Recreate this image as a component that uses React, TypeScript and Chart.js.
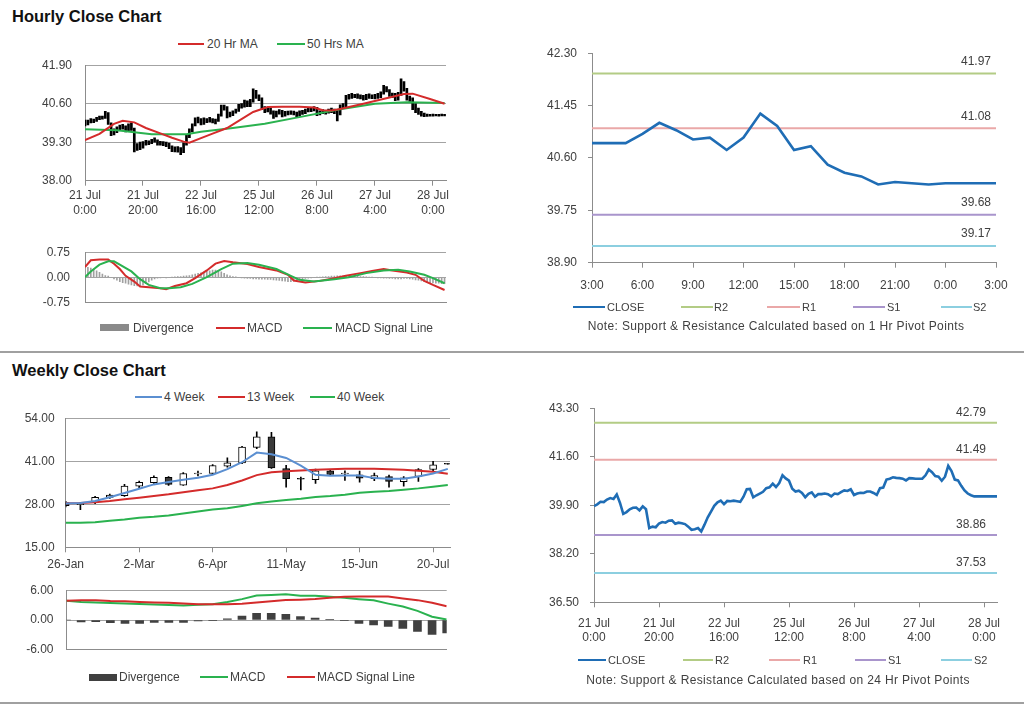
import React, { useEffect, useRef } from "react";
import { Chart, registerables } from "chart.js";

Chart.register(...registerables);

const FONT = "'Liberation Sans', Arial, Helvetica, sans-serif";
Chart.defaults.font.family = FONT;
Chart.defaults.font.size = 12;
Chart.defaults.color = "#404040";

// ---------------- data ----------------
// hourly bars (index 0 = 21 Jul 0:00, one per trading hour)
const hourlyTickIndex = [0, 20, 40, 60, 80, 100, 120];
const hourlyTickLabels = [
  ["21 Jul", "0:00"],
  ["21 Jul", "20:00"],
  ["22 Jul", "16:00"],
  ["25 Jul", "12:00"],
  ["26 Jul", "8:00"],
  ["27 Jul", "4:00"],
  ["28 Jul", "0:00"],
];
const hourlyClose = [
  39.87, 39.93, 40.02, 40.01, 40.1, 40.15, 40.12, 40.28, 39.98, 39.6,
  39.66, 39.76, 39.81, 39.82, 39.72, 39.86, 39.76, 39.1, 39.15, 39.13,
  39.26, 39.31, 39.29, 39.36, 39.37, 39.25, 39.29, 39.27, 39.24, 39.15,
  39.04, 39.06, 39.1, 38.98, 39.22, 39.48, 39.68, 39.88, 40.0, 40.06,
  39.94, 40.05, 40.04, 40.06, 40.04, 40.02, 40.2, 40.46, 40.47, 40.18,
  40.25, 40.31, 40.37, 40.5, 40.53, 40.66, 40.54, 40.68, 40.95, 40.84,
  40.76, 40.48, 40.38, 40.41, 40.33, 40.18, 40.3, 40.35, 40.2, 40.29,
  40.29, 40.31, 40.29, 40.21, 40.31, 40.29, 40.36, 40.42, 40.4, 40.46,
  40.26, 40.31, 40.34, 40.33, 40.38, 40.38, 40.33, 40.26, 40.5, 40.52,
  40.8, 40.83, 40.88, 40.86, 40.85, 40.83, 40.77, 40.85, 40.84, 40.83,
  40.83, 40.83, 40.95, 41.15, 41.06, 40.92, 40.9, 40.76, 40.9, 41.28,
  41.1, 40.8, 40.77, 40.58, 40.42, 40.31, 40.25, 40.21, 40.21, 40.21,
  40.21, 40.21, 40.21, 40.21, 40.21,
];
const hourlyHigh = [
  40.05, 40.05, 40.1, 40.08, 40.14, 40.18, 40.18, 40.34, 40.3, 39.95,
  39.75, 39.82, 39.88, 39.9, 39.85, 39.92, 39.95, 39.78, 39.25, 39.3,
  39.32, 39.36, 39.35, 39.4, 39.45, 39.38, 39.33, 39.32, 39.3, 39.27,
  39.18, 39.14, 39.15, 39.12, 39.28, 39.55, 39.75, 39.92, 40.12, 40.15,
  40.1, 40.12, 40.1, 40.14, 40.1, 40.08, 40.25, 40.55, 40.55, 40.5,
  40.32, 40.36, 40.42, 40.58, 40.6, 40.72, 40.7, 40.75, 41.1, 41.05,
  40.9, 40.8, 40.5, 40.48, 40.45, 40.36, 40.35, 40.4, 40.38, 40.34,
  40.35, 40.36, 40.35, 40.32, 40.36, 40.38, 40.42, 40.47, 40.46, 40.5,
  40.48, 40.36, 40.4, 40.38, 40.42, 40.45, 40.42, 40.38, 40.56, 40.6,
  40.88, 40.92, 40.95, 40.92, 40.93, 40.9, 40.88, 40.92, 40.93, 40.9,
  40.92, 40.95, 41.0, 41.22, 41.18, 41.08, 40.96, 40.95, 40.98, 41.44,
  41.35, 41.12, 40.86, 40.8, 40.6, 40.45, 40.34, 40.28, 40.25, 40.24,
  40.25, 40.24, 40.24, 40.25, 40.24,
];
const hourlyLow = [
  39.85, 39.88, 39.95, 39.96, 40.0, 40.06, 40.08, 40.1, 39.9, 39.52,
  39.55, 39.62, 39.7, 39.74, 39.65, 39.68, 39.7, 38.97, 39.02, 39.05,
  39.1, 39.2, 39.22, 39.25, 39.3, 39.2, 39.2, 39.18, 39.15, 39.08,
  38.98, 38.97, 38.96, 38.88, 38.95, 39.2, 39.45, 39.65, 39.85, 39.95,
  39.88, 39.9, 39.96, 39.98, 39.95, 39.92, 40.0, 40.18, 40.38, 40.12,
  40.15, 40.2, 40.28, 40.34, 40.45, 40.48, 40.5, 40.5, 40.65, 40.78,
  40.7, 40.4, 40.3, 40.32, 40.25, 40.1, 40.15, 40.25, 40.15, 40.18,
  40.22, 40.24, 40.22, 40.15, 40.18, 40.24, 40.26, 40.32, 40.33, 40.36,
  40.2, 40.22, 40.26, 40.25, 40.28, 40.3, 40.26, 40.02, 40.22, 40.44,
  40.5, 40.75, 40.78, 40.8, 40.78, 40.76, 40.72, 40.74, 40.78, 40.77,
  40.76, 40.78, 40.8, 40.92, 41.0, 40.85, 40.8, 40.7, 40.72, 40.88,
  41.02, 40.72, 40.68, 40.4, 40.3, 40.24, 40.18, 40.16, 40.17, 40.18,
  40.18, 40.19, 40.18, 40.19, 40.19,
];
// [hour index, value]
const ma20Hr: [number, number][] = [
  [0, 39.37], [5, 39.58], [10, 39.92], [13, 40.02], [17, 39.97], [21, 39.78],
  [26, 39.6], [30, 39.45], [34, 39.32], [36, 39.28], [40, 39.44], [44, 39.59],
  [49, 39.78], [53, 40.02], [58, 40.32], [63, 40.49], [68, 40.5], [74, 40.5],
  [79, 40.47], [82, 40.38], [85, 40.37], [88, 40.42], [96, 40.6], [105, 40.81],
  [110, 40.93], [113, 40.94], [119, 40.76], [124, 40.6],
];
const ma50Hr: [number, number][] = [
  [0, 39.74], [11, 39.7], [23, 39.57], [35, 39.57], [40, 39.65], [51, 39.78],
  [62, 39.92], [73, 40.13], [88, 40.41], [100, 40.6], [111, 40.65], [124, 40.62],
];
const hourlyMacd: [number, number][] = [
  [0, 0.31], [2, 0.51], [5, 0.53], [8, 0.53], [10, 0.41], [12, 0.25], [14, 0.05],
  [17, -0.12], [19, -0.27], [22, -0.29], [26, -0.32], [28, -0.35], [31, -0.25],
  [35, -0.17], [38, -0.02], [42, 0.21], [45, 0.41], [48, 0.49], [51, 0.45],
  [56, 0.4], [60, 0.31], [66, 0.21], [70, 0.08], [72, -0.09], [76, -0.15],
  [81, -0.1], [86, -0.02], [90, 0.05], [95, 0.13], [99, 0.19], [103, 0.25],
  [106, 0.21], [111, 0.15], [114, 0.08], [117, -0.1], [120, -0.22], [124, -0.37],
];
const hourlySignal: [number, number][] = [
  [0, 0.01], [2, 0.18], [5, 0.38], [8, 0.48], [10, 0.48], [12, 0.38], [16, 0.18],
  [19, -0.05], [22, -0.22], [26, -0.32], [29, -0.32], [33, -0.29], [37, -0.19],
  [42, 0.01], [47, 0.25], [51, 0.41], [56, 0.43], [60, 0.38], [66, 0.25],
  [71, 0.05], [74, -0.07], [79, -0.12], [86, -0.05], [91, 0.01], [97, 0.13],
  [103, 0.21], [108, 0.23], [112, 0.18], [117, 0.08], [120, -0.02], [124, -0.17],
];
const hourlyDivergence = [
  0.3, 0.3, 0.28, 0.25, 0.2, 0.15, 0.1, 0.06, 0.04, 0.0,
  -0.04, -0.08, -0.12, -0.15, -0.17, -0.2, -0.22, -0.24, -0.25, -0.24,
  -0.22, -0.18, -0.13, -0.08, -0.04, -0.02, -0.01, 0.0, -0.01, 0.0,
  0.01, 0.02, 0.03, 0.03, 0.04, 0.05, 0.06, 0.08, 0.1, 0.12,
  0.14, 0.16, 0.18, 0.2, 0.22, 0.22, 0.2, 0.17, 0.12, 0.08,
  0.05, 0.03, 0.02, 0.0, -0.01, -0.02, -0.03, -0.03, -0.04, -0.04,
  -0.05, -0.05, -0.05, -0.06, -0.06, -0.07, -0.08, -0.09, -0.1, -0.11,
  -0.12, -0.12, -0.11, -0.09, -0.07, -0.05, -0.03, -0.02, -0.01, 0.0,
  0.01, 0.01, 0.02, 0.03, 0.03, 0.04, 0.04, 0.05, 0.05, 0.05,
  0.06, 0.05, 0.05, 0.04, 0.04, 0.03, 0.03, 0.02, 0.01, 0.01,
  0.0, -0.01, -0.01, -0.02, -0.02, -0.03, -0.03, -0.04, -0.04, -0.04,
  -0.03, -0.03, -0.04, -0.05, -0.07, -0.08, -0.1, -0.12, -0.14, -0.15,
  -0.16, -0.17, -0.17, -0.18, -0.18,
];
const hourlyPriceTicks = [38.0, 39.3, 40.6, 41.9];
const hourlyMacdTicks = [-0.75, 0, 0.75];

// 1 Hr pivot panel (hour 0 = 3:00)
const pivot1hTickIndex = [0, 3, 6, 9, 12, 15, 18, 21, 24];
const pivot1hTickLabels = ["3:00", "6:00", "9:00", "12:00", "15:00", "18:00", "21:00", "0:00", "3:00"];
const pivot1hClose = [
  40.84, 40.84, 40.84, 40.99, 41.17, 41.05, 40.9, 40.93, 40.73, 40.93, 41.32, 41.12, 40.73,
  40.79, 40.49, 40.36, 40.3, 40.17, 40.21, 40.19, 40.17, 40.19, 40.19, 40.19, 40.19,
];
const pivot1hLevels = [41.97, 41.08, 39.68, 39.17]; // R2, R1, S1, S2
const pivot1hTicks = [38.9, 39.75, 40.6, 41.45, 42.3];

// 24 Hr pivot panel
const pivot24hLevels = [42.79, 41.49, 38.86, 37.53]; // R2, R1, S1, S2
const pivot24hTicks = [36.5, 38.2, 39.9, 41.6, 43.3];

const pivotNames = ["R2", "R1", "S1", "S2"];

// weekly (week 0 = 26-Jan)
const weeklyTickIndex = [0, 5, 10, 15, 20, 25];
const weeklyTickLabels = ["26-Jan", "2-Mar", "6-Apr", "11-May", "15-Jun", "20-Jul"];
const weeklyOpen = [28.5, 27.9, 28.5, 30.1, 30.6, 33.5, 34.5, 36.1, 33.8, 37.2, 37.3, 39.5, 40.5, 45.2, 48.4, 38.8, 35.8, 35.4, 38.1, 37.2, 36.9, 35.7, 36.4, 34.8, 36.4, 38.5, 40.35];
const weeklyClose = [27.6, 28.3, 30.1, 30.8, 33.5, 34.6, 36.1, 34.0, 37.3, 37.4, 39.7, 40.5, 45.3, 48.4, 39.0, 35.7, 35.6, 38.1, 37.0, 37.4, 35.9, 36.7, 34.9, 36.0, 38.5, 39.9, 40.15];
const weeklyHigh = [28.9, 28.6, 30.4, 31.1, 34.0, 35.0, 36.6, 36.4, 37.6, 38.0, 40.0, 42.0, 45.5, 49.9, 49.7, 39.8, 36.2, 38.6, 38.5, 38.1, 38.0, 37.4, 36.8, 36.4, 38.8, 41.0, 40.4];
const weeklyLow = [27.2, 26.4, 28.2, 29.8, 30.4, 32.9, 34.3, 33.7, 33.7, 36.6, 37.1, 39.2, 40.3, 44.8, 38.8, 33.2, 32.3, 34.3, 36.7, 35.2, 34.7, 35.1, 33.2, 33.5, 34.9, 38.1, 40.1];
const ma4Week = [28.2, 28.4, 29.0, 30.1, 31.4, 32.7, 34.0, 34.7, 35.4, 36.0, 36.9, 38.6, 40.7, 43.6, 43.1, 42.0, 39.7, 36.9, 36.6, 36.7, 36.7, 35.9, 35.7, 35.7, 36.4, 37.3, 38.7];
const ma13Week = [28.3, 28.4, 28.6, 29.0, 29.5, 30.0, 30.5, 31.0, 31.6, 32.2, 32.8, 33.8, 35.2, 36.8, 37.7, 38.0, 38.2, 38.4, 38.6, 38.7, 38.7, 38.7, 38.6, 38.4, 38.1, 37.8, 37.2];
const ma40Week = [22.4, 22.4, 22.6, 23.0, 23.4, 23.9, 24.2, 24.6, 25.2, 25.8, 26.4, 26.8, 27.5, 28.3, 28.8, 29.3, 29.7, 30.2, 30.5, 30.9, 31.5, 31.8, 32.0, 32.4, 32.8, 33.3, 33.8];
const weeklyMacd = [3.87, 3.6, 3.5, 3.4, 3.3, 3.2, 3.1, 3.0, 2.93, 3.05, 3.16, 3.63, 4.2, 4.95, 5.05, 5.2, 4.9, 4.9, 4.67, 4.48, 4.2, 3.96, 3.3, 2.7, 1.84, 0.66, 0.1];
const weeklySignal = [3.87, 3.96, 3.96, 3.82, 3.78, 3.63, 3.54, 3.49, 3.3, 3.16, 3.16, 3.16, 3.26, 3.54, 3.78, 4.01, 4.1, 4.25, 4.48, 4.67, 4.72, 4.72, 4.72, 4.34, 4.0, 3.49, 2.78];
const weeklyDivergence = [0, -0.38, -0.35, -0.55, -0.7, -0.7, -0.5, -0.5, -0.5, -0.2, -0.15, 0.25, 0.8, 1.35, 1.35, 1.15, 0.7, 0.4, 0.05, -0.15, -0.7, -1.0, -1.3, -1.7, -2.3, -2.9, -2.6];
const weeklyPriceTicks = [15, 28, 41, 54];
const weeklyMacdTicks = [-6, 0, 6];

// ---------------- styles ----------------
const AXIS_GRAY = "#8c8c8c";
const GRID_GRAY = "#a3a3a3";
const TEXT = "#404040";
const RED = "#d42b2b";
const GREEN = "#2ab24f";
const CLOSE_BLUE = "#1f6db5";
const WEEK4_BLUE = "#5b8fd1";
const PIVOT_COLORS = ["#b3cc85", "#eaa8a8", "#a995cc", "#8ccfe0"];

function yScale(ticks: number[], width: number, grid: boolean, tickLen: number, pad: number) {
  return {
    type: "linear" as const,
    min: ticks[0],
    max: ticks[ticks.length - 1],
    beginAtZero: false,
    afterBuildTicks: (s: any) => {
      s.ticks = ticks.map((v) => ({ value: v }));
    },
    afterFit: (s: any) => {
      s.width = width;
    },
    ticks: {
      padding: pad,
      color: TEXT,
      font: { size: 12 },
      callback: (v: any) => Number(v).toFixed(2),
    },
    grid: {
      drawOnChartArea: grid,
      drawTicks: tickLen > 0,
      tickLength: tickLen,
      color: GRID_GRAY,
      tickColor: AXIS_GRAY,
      lineWidth: 1,
    },
    border: { display: true, color: AXIS_GRAY, width: 1 },
  };
}

function xScale(min: number, max: number, tickVals: number[], labels: any[] | null, height: number, pad: number) {
  return {
    type: "linear" as const,
    min,
    max,
    offset: false,
    afterBuildTicks: (s: any) => {
      s.ticks = tickVals.map((v) => ({ value: v }));
    },
    afterFit: (s: any) => {
      s.height = height;
    },
    ticks: {
      display: !!labels,
      padding: pad,
      autoSkip: false,
      maxRotation: 0,
      minRotation: 0,
      color: TEXT,
      font: { size: 12 },
      callback: (_v: any, i: number) => (labels ? labels[i] : ""),
    },
    grid: {
      display: true,
      drawOnChartArea: false,
      drawTicks: !!labels,
      tickLength: 5,
      color: AXIS_GRAY,
      tickColor: AXIS_GRAY,
      offset: false,
    },
    border: { display: true, color: AXIS_GRAY, width: 1 },
  };
}

function baseOptions(padTop: number, padRight: number, x: any, y: any) {
  return {
    responsive: false,
    animation: false as const,
    devicePixelRatio: 1,
    events: [] as any[],
    layout: { padding: { left: 0, right: padRight, top: padTop, bottom: 0 } },
    plugins: { legend: { display: false }, tooltip: { enabled: false } },
    scales: { x, y },
  };
}

const lineDs = (data: any[], color: string, width: number, order: number) => ({
  type: "line" as const,
  data,
  borderColor: color,
  backgroundColor: color,
  borderWidth: width,
  pointRadius: 0,
  tension: 0,
  fill: false,
  order,
});

function pivotLabelPlugin(levels: number[], inset: number, lift: number) {
  return {
    id: "pivotLabels",
    afterDatasetsDraw(chart: any) {
      const { ctx, chartArea, scales } = chart;
      ctx.save();
      ctx.font = `12px ${FONT}`;
      ctx.fillStyle = TEXT;
      ctx.textAlign = "right";
      ctx.textBaseline = "middle";
      levels.forEach((v) => {
        ctx.fillText(v.toFixed(2), chartArea.right - inset, scales.y.getPixelForValue(v) - lift);
      });
      ctx.restore();
    },
  };
}

// ---------------- chart configs ----------------
function hourlyPriceConfig() {
  return {
    type: "bar" as const,
    data: {
      datasets: [
        lineDs(ma20Hr.map(([x, y]) => ({ x, y })), RED, 2, 0),
        lineDs(ma50Hr.map(([x, y]) => ({ x, y })), GREEN, 2, 1),
        {
          type: "bar" as const,
          data: hourlyLow.map((l, i) => ({ x: i, y: [l, hourlyHigh[i]] })),
          backgroundColor: "#000",
          barThickness: 2,
          grouped: false,
          order: 2,
        },
      ],
    },
    options: baseOptions(
      12.3,
      24,
      xScale(0, 124.5, hourlyTickIndex, hourlyTickLabels, 44.3, 3),
      yScale(hourlyPriceTicks, 85, true, 0, 13)
    ),
  };
}

function hourlyMacdConfig() {
  return {
    type: "bar" as const,
    data: {
      datasets: [
        lineDs(hourlyMacd.map(([x, y]) => ({ x, y })), RED, 2, 1),
        lineDs(hourlySignal.map(([x, y]) => ({ x, y })), GREEN, 2, 0),
        {
          type: "bar" as const,
          data: hourlyDivergence.map((v, i) => ({ x: i, y: v })),
          backgroundColor: "#a0a0a0",
          barThickness: 1,
          grouped: false,
          order: 2,
        },
      ],
    },
    options: baseOptions(
      10.7,
      24,
      xScale(0, 124.5, hourlyTickIndex, null, 9.3, 0),
      yScale(hourlyMacdTicks, 85, true, 0, 15)
    ),
  };
}

function pivot1hConfig() {
  const maxX = pivot1hClose.length - 1;
  return {
    type: "line" as const,
    data: {
      datasets: [
        lineDs(pivot1hClose.map((v, i) => ({ x: i, y: v })), CLOSE_BLUE, 2.6, 0),
        ...pivot1hLevels.map((v, k) =>
          lineDs([{ x: 0, y: v }, { x: maxX, y: v }], PIVOT_COLORS[k], 2, 1 + k)
        ),
      ],
    },
    options: baseOptions(
      12.3,
      24,
      xScale(0, maxX, pivot1hTickIndex, pivot1hTickLabels, 37.3, 11),
      yScale(pivot1hTicks, 92, false, 4, 11)
    ),
    plugins: [pivotLabelPlugin(pivot1hLevels, 5, 12)],
  };
}

function pivot24hConfig() {
  const maxX = hourlyClose.length - 1;
  return {
    type: "line" as const,
    data: {
      datasets: [
        lineDs(hourlyClose.map((v, i) => ({ x: i, y: v })), CLOSE_BLUE, 2.6, 0),
        ...pivot24hLevels.map((v, k) =>
          lineDs([{ x: 0, y: v }, { x: maxX, y: v }], PIVOT_COLORS[k], 2, 1 + k)
        ),
      ],
    },
    options: baseOptions(
      11.7,
      23,
      xScale(0, maxX, hourlyTickIndex, hourlyTickLabels, 47.7, 9),
      yScale(pivot24hTicks, 94, false, 4, 11)
    ),
    plugins: [pivotLabelPlugin(pivot24hLevels, 11, 10)],
  };
}

function weeklyPriceConfig() {
  return {
    type: "bar" as const,
    data: {
      datasets: [
        lineDs(ma4Week.map((v, i) => ({ x: i, y: v })), WEEK4_BLUE, 2, 0),
        lineDs(ma13Week.map((v, i) => ({ x: i, y: v })), RED, 2, 1),
        lineDs(ma40Week.map((v, i) => ({ x: i, y: v })), GREEN, 2, 2),
        {
          type: "bar" as const,
          data: weeklyOpen.map((o, i) => ({ x: i, y: [o, weeklyClose[i]] })),
          backgroundColor: weeklyOpen.map((o, i) => (weeklyClose[i] >= o ? "#ffffff" : "#3a3a3a")),
          borderColor: "#000",
          borderWidth: 1,
          borderSkipped: false,
          barThickness: 7,
          grouped: false,
          order: 3,
        },
        {
          type: "bar" as const,
          data: weeklyLow.map((l, i) => ({ x: i, y: [l, weeklyHigh[i]] })),
          backgroundColor: "#000",
          barThickness: 1,
          grouped: false,
          order: 4,
        },
      ],
    },
    options: baseOptions(
      12.3,
      20,
      xScale(0, 26.15, weeklyTickIndex, weeklyTickLabels, 32.7, 5.5),
      yScale(weeklyPriceTicks, 65.7, true, 0, 11)
    ),
  };
}

function weeklyMacdConfig() {
  return {
    type: "bar" as const,
    data: {
      datasets: [
        lineDs(weeklyMacd.map((v, i) => ({ x: i, y: v })), GREEN, 2, 1),
        lineDs(weeklySignal.map((v, i) => ({ x: i, y: v })), RED, 2, 0),
        {
          type: "bar" as const,
          data: weeklyDivergence.map((v, i) => ({ x: i, y: v })),
          backgroundColor: "#404040",
          barThickness: 8,
          grouped: false,
          order: 2,
        },
      ],
    },
    options: baseOptions(
      10,
      23.3,
      xScale(0, 26, weeklyTickIndex, null, 4.3, 0),
      yScale(weeklyMacdTicks, 66.5, true, 0, 13)
    ),
  };
}

// ---------------- components ----------------
function ChartBox(props: { left: number; top: number; width: number; height: number; build: () => any }) {
  const ref = useRef<HTMLCanvasElement | null>(null);
  useEffect(() => {
    if (!ref.current) return;
    const chart = new Chart(ref.current, props.build());
    return () => chart.destroy();
  }, []);
  return (
    <canvas
      ref={ref}
      width={props.width}
      height={props.height}
      style={{ position: "absolute", left: props.left, top: props.top, width: props.width, height: props.height }}
    />
  );
}

type LegendItem = {
  kind: "line" | "box";
  x1: number;
  x2: number;
  tx: number;
  color: string;
  text: string;
  thick?: number;
};

function Legend(props: { y: number; size: number; items: LegendItem[] }) {
  const { y, size, items } = props;
  return (
    <>
      {items.map((it, i) => {
        const h = it.kind === "box" ? 7 : it.thick ?? 2;
        return (
          <React.Fragment key={i}>
            <div
              style={{
                position: "absolute",
                left: it.x1,
                top: Math.round(y - h / 2),
                width: it.x2 - it.x1,
                height: h,
                background: it.color,
              }}
            />
            <div
              style={{
                position: "absolute",
                left: it.tx,
                top: Math.round(y - 8),
                height: 16,
                lineHeight: "16px",
                fontSize: size,
                color: TEXT,
                whiteSpace: "nowrap",
              }}
            >
              {it.text}
            </div>
          </React.Fragment>
        );
      })}
    </>
  );
}

const pivotLegend = (xs: number[][]): LegendItem[] =>
  ["CLOSE", ...pivotNames].map((t, k) => ({
    kind: "line",
    x1: xs[k][0],
    x2: xs[k][1],
    tx: xs[k][2],
    color: k === 0 ? CLOSE_BLUE : PIVOT_COLORS[k - 1],
    text: t,
    thick: 2,
  }));

const noteStyle = {
  position: "absolute" as const,
  width: 512,
  textAlign: "center" as const,
  fontSize: 12,
  lineHeight: "16px",
  letterSpacing: "0.36px",
  color: TEXT,
  whiteSpace: "nowrap" as const,
};

export default function App() {
  return (
    <div
      style={{
        position: "fixed",
        left: 0,
        top: 0,
        width: 1024,
        height: 706,
        background: "#ffffff",
        fontFamily: FONT,
        overflow: "hidden",
      }}
    >
      <div style={{ position: "absolute", left: 12, top: 5, fontSize: 16.5, fontWeight: "bold", lineHeight: "22px", color: "#111" }}>
        Hourly Close Chart
      </div>
      <div style={{ position: "absolute", left: 12, top: 359, fontSize: 16.5, fontWeight: "bold", lineHeight: "22px", color: "#111" }}>
        Weekly Close Chart
      </div>
      <div style={{ position: "absolute", left: 0, top: 351, width: 1024, height: 2, background: "#a0a0a0" }} />
      <div style={{ position: "absolute", left: 0, top: 702, width: 1024, height: 2, background: "#a0a0a0" }} />

      <Legend
        y={44}
        size={12}
        items={[
          { kind: "line", x1: 178, x2: 204, tx: 207, color: RED, text: "20 Hr MA" },
          { kind: "line", x1: 277, x2: 305, tx: 307, color: GREEN, text: "50 Hrs MA" },
        ]}
      />
      <ChartBox left={0} top={45} width={470} height={180} build={hourlyPriceConfig} />
      <ChartBox left={0} top={230} width={470} height={95} build={hourlyMacdConfig} />
      <Legend
        y={327.5}
        size={12}
        items={[
          { kind: "box", x1: 100, x2: 129, tx: 133, color: "#8a8a8a", text: "Divergence" },
          { kind: "line", x1: 216, x2: 245, tx: 247, color: RED, text: "MACD" },
          { kind: "line", x1: 303, x2: 332, tx: 335, color: GREEN, text: "MACD Signal Line" },
        ]}
      />

      <ChartBox left={500} top={35} width={520} height={265} build={pivot1hConfig} />
      <Legend
        y={307}
        size={11}
        items={pivotLegend([
          [573, 605, 607],
          [681, 713, 714],
          [767, 800, 802],
          [853, 885, 887],
          [941, 972, 973],
        ])}
      />
      <div style={{ ...noteStyle, left: 520, top: 318 }}>
        Note: Support &amp; Resistance Calculated based on 1 Hr Pivot Points
      </div>

      <Legend
        y={397}
        size={12}
        items={[
          { kind: "line", x1: 135, x2: 162, tx: 164, color: WEEK4_BLUE, text: "4 Week" },
          { kind: "line", x1: 218, x2: 245, tx: 247, color: RED, text: "13 Week" },
          { kind: "line", x1: 310, x2: 335, tx: 337, color: GREEN, text: "40 Week" },
        ]}
      />
      <ChartBox left={0} top={400} width={470} height={180} build={weeklyPriceConfig} />
      <ChartBox left={0} top={570} width={470} height={100} build={weeklyMacdConfig} />
      <Legend
        y={677}
        size={12}
        items={[
          { kind: "box", x1: 89, x2: 117, tx: 119, color: "#404040", text: "Divergence" },
          { kind: "line", x1: 200, x2: 228, tx: 230, color: GREEN, text: "MACD" },
          { kind: "line", x1: 287, x2: 315, tx: 317, color: RED, text: "MACD Signal Line" },
        ]}
      />

      <ChartBox left={500} top={390} width={520} height={260} build={pivot24hConfig} />
      <Legend
        y={659.5}
        size={11}
        items={pivotLegend([
          [578, 606, 608],
          [683, 713, 715],
          [769, 800, 803],
          [855, 886, 888],
          [941, 972, 974],
        ])}
      />
      <div style={{ ...noteStyle, left: 522, top: 672 }}>
        Note: Support &amp; Resistance Calculated based on 24 Hr Pivot Points
      </div>
    </div>
  );
}
